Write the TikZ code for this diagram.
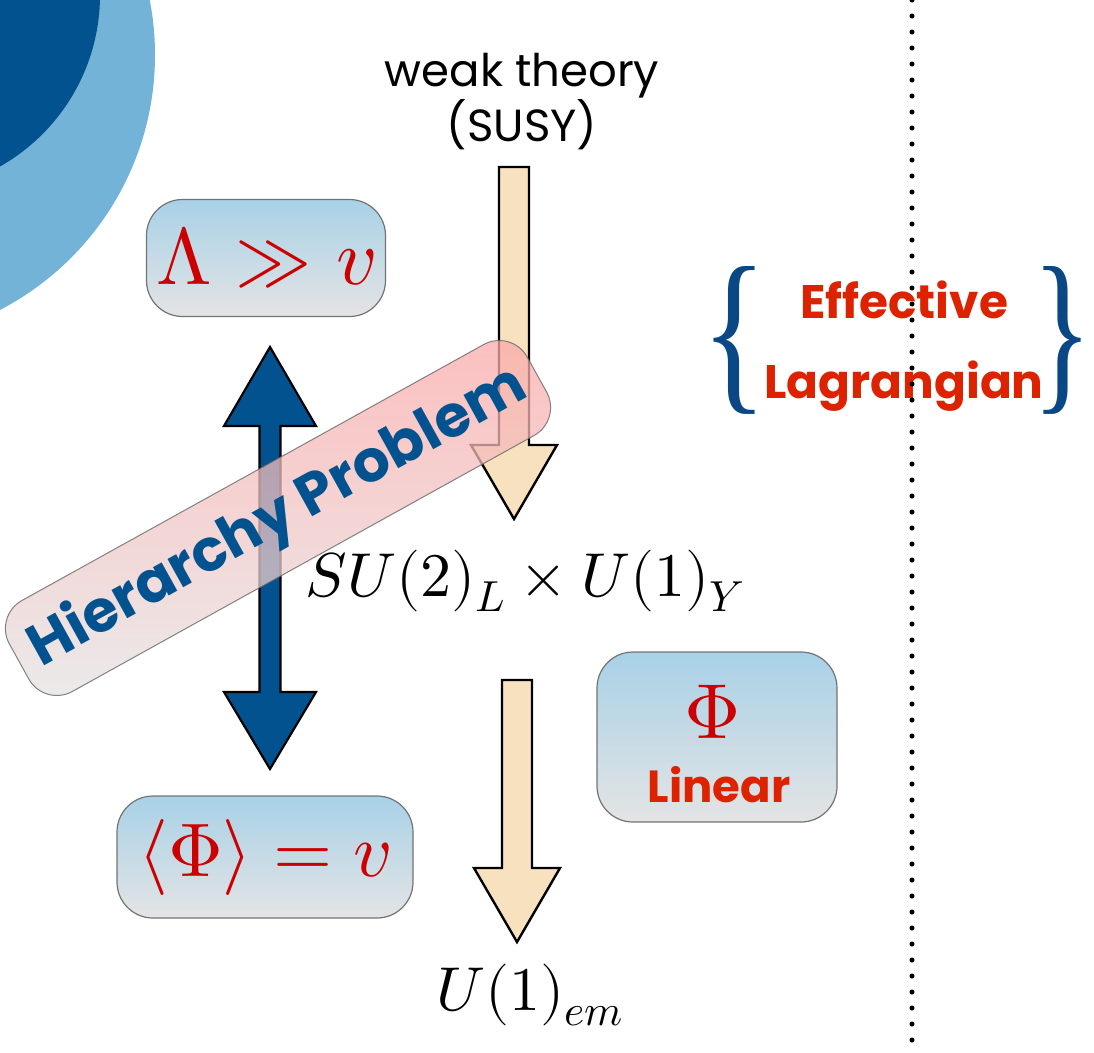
\documentclass[tikz,border=0pt]{standalone}
\usepackage{graphicx}
\usepackage{fontspec}
\usepackage{unicode-math}
\setsansfont{Poppins}
\newfontfamily\bracefont{Liberation Serif}
\usetikzlibrary{calc,positioning}
\definecolor{DeepBlue}{HTML}{02528F}
\definecolor{SkyBlue}{HTML}{74B3D8}
\definecolor{Wheat}{HTML}{F7E1BE}
\definecolor{BoxTop}{HTML}{A8D1E7}
\definecolor{BoxBottom}{HTML}{E4E4E4}
\definecolor{FormRed}{HTML}{CC0000}
\definecolor{TextRed}{HTML}{DD2200}
\definecolor{BraceBlue}{HTML}{0A4885}
\definecolor{Blush}{HTML}{FCA8A8}
\definecolor{Mist}{HTML}{E4E4E4}

\tikzset{
  formbox/.style={draw=black!55,line width=1.2pt,rounded corners=36pt,top color=BoxTop,bottom color=BoxBottom,text=FormRed,inner sep=0pt},
  wheat/.style={fill=Wheat,draw=black,line width=2.4pt,line join=miter},
  duo/.style={fill=DeepBlue,draw=black,line width=2.2pt},
  plaintext/.style={font=\sffamily\fontsize{45}{50}\selectfont,inner sep=0pt},
  redlabel/.style={font=\sffamily\bfseries\fontsize{47}{50}\selectfont,text=TextRed,inner sep=0pt},
  bigmath/.style={inner sep=0pt,font=\fontsize{62}{66}\selectfont},
  curly/.style={inner sep=0pt,text=BraceBlue,font=\bracefont},
}
% block arrow pointing down: x, top, tip
\newcommand{\blockdown}[3]{%
  \draw[wheat](#1-15,#2)--(#1+15,#2)--(#1+15,#3-74)--(#1+43,#3-74)
    --(#1,#3)--(#1-43,#3-74)--(#1-15,#3-74)--cycle;}

\begin{document}
\begin{tikzpicture}[x=1pt,y=-1pt]
  \useasboundingbox(0,0)rectangle(1094,1052);
  \clip(0,0)rectangle(1094,1052);
  % corner disks
  \fill[SkyBlue](-132,55)circle(287);
  \fill[DeepBlue](-97,-5)circle(197);
  % breaking chain
  \node[plaintext,anchor=base](weak)at(522,86){weak theory};
  \node[plaintext,anchor=base](susy)at(522,141){(SUSY)};
  \node[bigmath,anchor=base](ew)at(525,596){$SU(2)_L\times U(1)_Y$};
  \node[bigmath,anchor=base](em)at(530,1010){$U(1)_{em}$};
  \blockdown{514}{167}{519}
  \blockdown{517}{680}{942}
  % scale gap
  \draw[duo](270,347)--(316,426)--(280.5,426)--(280.5,692)--(316,692)--(270,769)
    --(224,692)--(259.5,692)--(259.5,426)--(224,426)--cycle;
  \node[formbox,minimum width=239pt,minimum height=117pt,font=\fontsize{80}{84}\selectfont](cut)at(266,258){$\Lambda\gg v$};
  \node[formbox,minimum width=296pt,minimum height=122pt,font=\fontsize{76}{80}\selectfont](vev)at(265,857){$\langle\Phi\rangle=v$};
  \node[formbox,minimum width=240pt,minimum height=170pt](lin)at(717,737){};
  \node[anchor=base,inner sep=0pt,text=FormRed,font=\fontsize{78}{80}\selectfont](phi)at(713,738){$\Phi$};
  \node[redlabel,anchor=base,font=\sffamily\bfseries\fontsize{45}{50}\selectfont](linear)at(719,802){Linear};
  \node[rotate=29,minimum width=592pt,minimum height=104pt,rounded corners=32pt,draw=black!60,line width=1pt,
    top color=Blush,bottom color=Mist,fill opacity=.75,draw opacity=.8,text opacity=1,text=DeepBlue,
    font=\sffamily\bfseries\fontsize{58}{62}\selectfont](hier)at(278,518){Hierarchy Problem};
  % effective description
  \node[redlabel,anchor=base](eff)at(904,318){Effective};
  \node[redlabel,anchor=base](lag)at(904,398){Lagrangian};
  \node[curly](lbrace)at(735,340){\resizebox{66pt}{124pt}{\{}};
  \node[curly](rbrace)at(1063,340){\resizebox{60pt}{124pt}{\}}};
  \coordinate(ruletop)at(912,0);
  \coordinate(rulebot)at(912,1052);
  \draw[line width=5pt,line cap=round,dash pattern=on 0pt off 16pt](ruletop)--(rulebot);
\end{tikzpicture}
\end{document}
